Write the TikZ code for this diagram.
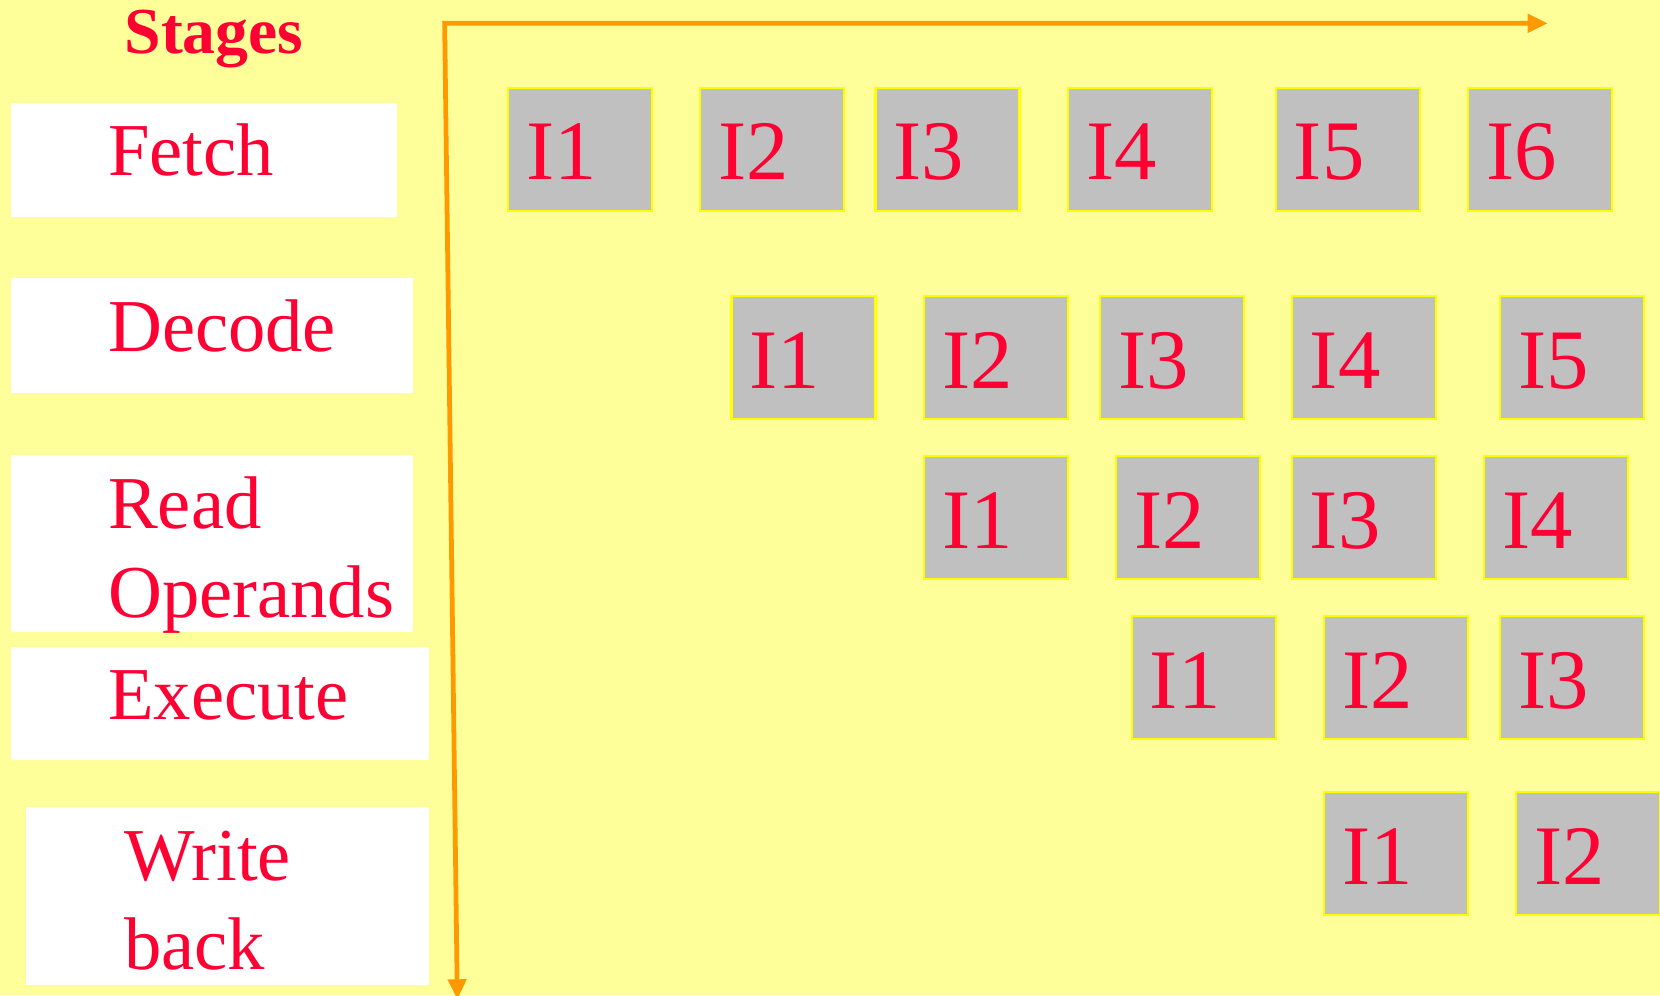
\documentclass[tikz,border=0pt]{standalone}
\usepackage{fontspec}
\setmainfont{Liberation Serif}
\usetikzlibrary{arrows.meta,calc}
\definecolor{bgyellow}{HTML}{FFFF99}
\definecolor{txtred}{HTML}{FF0033}
\definecolor{axisorange}{HTML}{FF9900}
\definecolor{cellgray}{HTML}{C0C0C0}
\definecolor{cellborder}{HTML}{FFFF00}
\tikzset{
  stagebox/.style={fill=white, draw=none, anchor=north west, inner sep=0pt, outer sep=0pt},
  stagetext/.style={text=txtred, font=\fontsize{70.5}{84}\selectfont, anchor=base west, inner sep=0pt, align=left, text width=300pt},
  cell/.style={fill=cellgray, draw=cellborder, line width=2pt, anchor=north west, minimum width=136pt, minimum height=116pt, inner sep=0pt, outer sep=0pt},
  celltext/.style={text=txtred, font=\fontsize{80}{96}\selectfont, anchor=base west, inner sep=0pt},
  axis/.style={draw=axisorange, line width=4.5pt, line join=miter, {Triangle[length=19pt,width=17pt]}-{Triangle[length=19pt,width=17pt]}},
}
\begin{document}
\begin{tikzpicture}[x=1pt,y=-1pt]
\fill[bgyellow] (0,0) rectangle (1568,940);
\useasboundingbox (0,0) rectangle (1568,940);

% title
\node[text=txtred, font=\fontsize{62}{70}\selectfont\bfseries, anchor=base, inner sep=0pt] (stages) at (202,51) {Stages};

% stage boxes
\node[stagebox, minimum width=365pt, minimum height=108pt] (fetchbox) at (10,97) {};
\node[stagebox, minimum width=380pt, minimum height=108pt] (decodebox) at (10,263) {};
\node[stagebox, minimum width=380pt, minimum height=167pt] (readbox) at (10,430) {};
\node[stagebox, minimum width=395pt, minimum height=107pt] (executebox) at (10,611) {};
\node[stagebox, minimum width=380pt, minimum height=168pt] (writebox) at (25,762) {};

\node[stagetext] (fetch) at (102,166) {Fetch};
\node[stagetext] (decode) at (102,332) {Decode};
\node[stagetext] (read) at (102,499) {Read\\Operands};
\node[stagetext] (execute) at (102,680) {Execute};
\node[stagetext] (write) at (117,832) {Write\\back};

% axes
\coordinate (origin) at (420,22);
\coordinate (timeend) at (1462,22);
\coordinate (stageend) at (432,944);
\draw[axis] (timeend) -- (origin) -- (stageend);

% pipeline cells
\foreach \row/\y/\list in {
  a/83/{480/1,661/2,827/3,1009/4,1205/5,1387/6},
  b/280/{691/1,873/2,1039/3,1220/4,1417/5},
  c/431/{873/1,1054/2,1220/3,1402/4},
  d/582/{1069/1,1251/2,1417/3},
  e/748/{1251/1,1432/2}} {
  \foreach \x/\n in \list {
    \node[cell] (\row\n) at (\x,\y) {};
    \node[celltext] (\row\n t) at ($(\x,\y)+(17,87)$) {I\n};
  }
}
\end{tikzpicture}
\end{document}
